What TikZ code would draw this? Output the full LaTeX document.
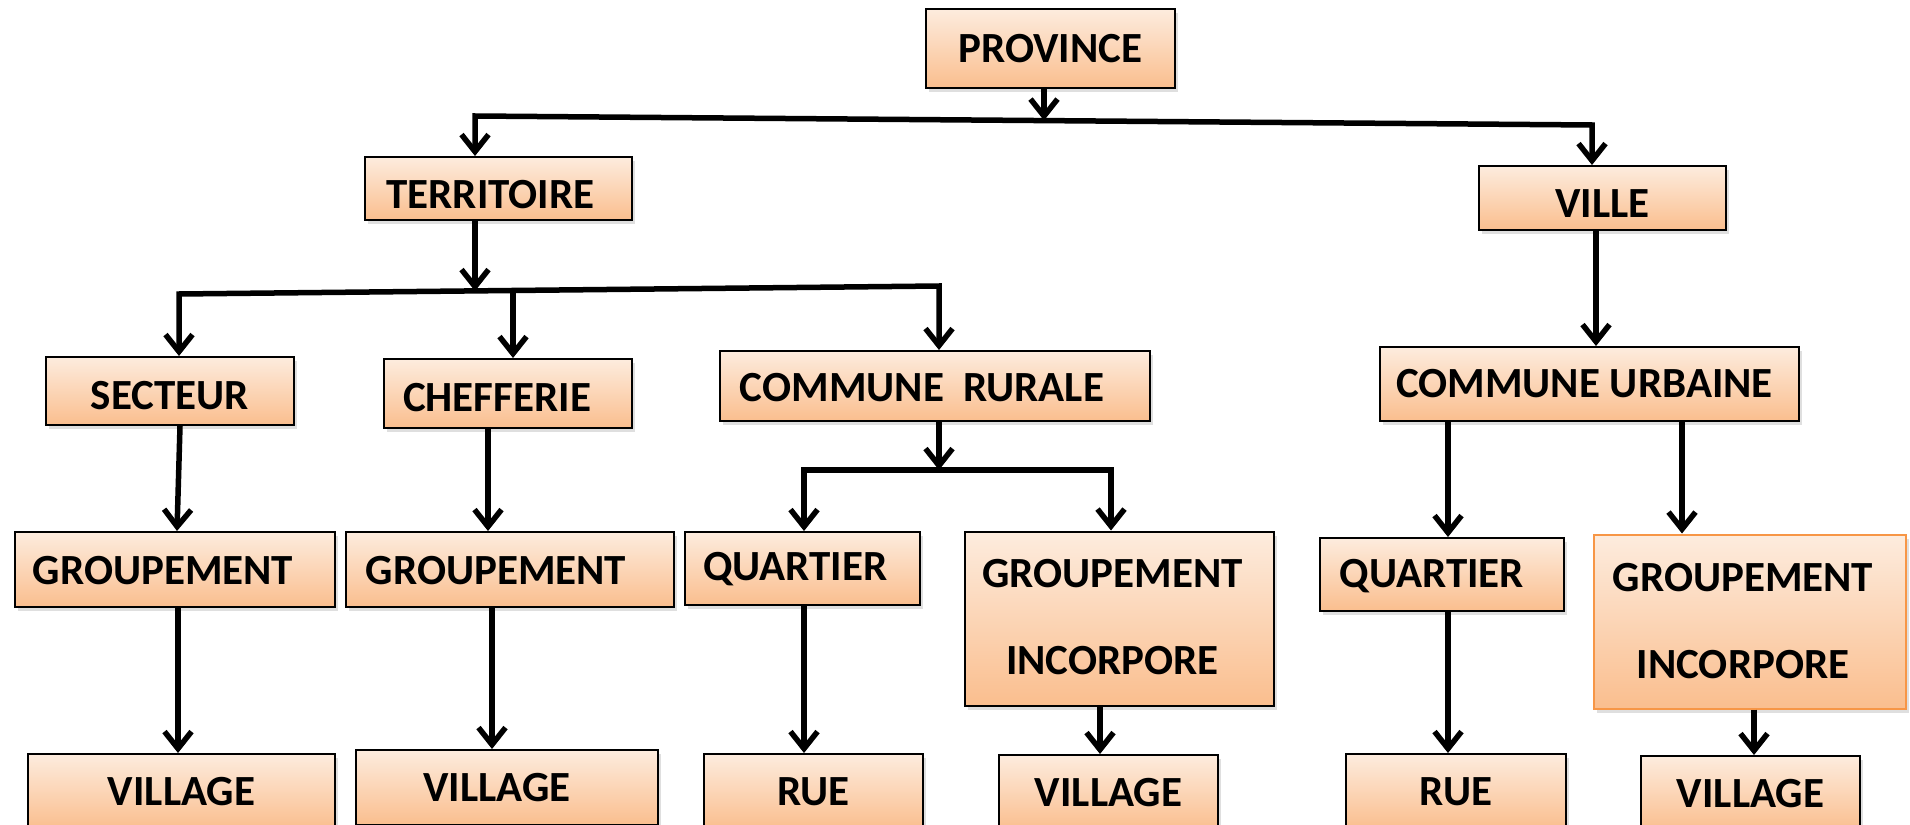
\documentclass[tikz,border=0pt]{standalone}
\usepackage{fontspec}
\setmainfont{Carlito}
\usetikzlibrary{arrows.meta,shadows,calc}
\definecolor{boxtop}{RGB}{253,236,222}
\definecolor{boxbot}{RGB}{250,190,142}
\definecolor{orangeline}{RGB}{247,150,70}
% #1 = shift to the left, #2 = shift downwards, #3 = text
\newcommand\tshift[3]{\raisebox{-#2}[\height][\depth]{#3}\kern#1\kern#1}
\begin{document}
\begin{tikzpicture}[x=1pt,y=-1pt,
  box/.style={draw=black,line width=2pt,top color=boxtop,bottom color=boxbot,
    font=\fontsize{43}{87}\selectfont\bfseries,inner sep=0pt,align=center,
    drop shadow={shadow xshift=3pt,shadow yshift=-4pt,opacity=0.25}},
  conn/.style={line width=5.5pt,line join=miter},
  arr/.style={conn,-{Straight Barb[length=17pt,width=27pt]}},
  arrb/.style={conn,{Straight Barb[length=17pt,width=27pt]}-{Straight Barb[length=17pt,width=27pt]}}]
\useasboundingbox (0,0) rectangle (1910,824);
% nodes
\node[box,minimum width=249pt,minimum height=79pt] (prov) at (1050.5,48.5) {PROVINCE};
\node[box,minimum width=267pt,minimum height=63pt] (terr) at (498.5,188.5) {\tshift{8pt}{6pt}{TERRITOIRE}};
\node[box,minimum width=247pt,minimum height=64pt] (ville) at (1602.5,198) {\tshift{0pt}{6pt}{VILLE}};
\node[box,minimum width=248pt,minimum height=68pt] (sect) at (170,391) {\tshift{0pt}{5pt}{SECTEUR}};
\node[box,minimum width=248pt,minimum height=69pt] (chef) at (508,393.5) {\tshift{11pt}{4pt}{CHEFFERIE}};
\node[box,minimum width=430pt,minimum height=70pt] (cr) at (935,386) {\tshift{13pt}{2pt}{COMMUNE\ \ RURALE}};
\node[box,minimum width=419pt,minimum height=74pt] (cu) at (1589.5,384) {\tshift{5pt}{0pt}{COMMUNE URBAINE}};
\node[box,minimum width=320pt,minimum height=75pt] (g1) at (175,569.5) {\tshift{12pt}{1pt}{GROUPEMENT}};
\node[box,minimum width=328pt,minimum height=75pt] (g2) at (510,569.5) {\tshift{14pt}{1pt}{GROUPEMENT}};
\node[box,minimum width=235pt,minimum height=73pt] (q1) at (802.5,568.5) {\tshift{7pt}{1pt}{QUARTIER}};
\node[box,minimum width=309pt,minimum height=169pt] (gi1) at (1119.5,618.5) {\tshift{7pt}{-5pt}{\begin{tabular}{@{}c@{}}GROUPEMENT\\INCORPORE\end{tabular}}};
\node[box,minimum width=244pt,minimum height=73pt] (q2) at (1442,574.5) {\tshift{10pt}{2pt}{QUARTIER}};
\node[box,draw=orangeline,minimum width=312pt,minimum height=169pt] (gi2) at (1750,621.5) {\tshift{7pt}{-3.5pt}{\begin{tabular}{@{}c@{}}GROUPEMENT\\INCORPORE\end{tabular}}};
\node[box,minimum width=307pt,minimum height=75pt] (v1) at (181.5,791.5) {VILLAGE};
\node[box,minimum width=302pt,minimum height=75pt] (v2) at (507,787.5) {\tshift{10pt}{0pt}{VILLAGE}};
\node[box,minimum width=219pt,minimum height=75pt] (r1) at (813.5,791.5) {RUE};
\node[box,minimum width=219pt,minimum height=75pt] (v3) at (1108.5,792.5) {VILLAGE};
\node[box,minimum width=220pt,minimum height=75pt] (r2) at (1456,791.5) {RUE};
\node[box,minimum width=219pt,minimum height=75pt] (v4) at (1750.5,793.5) {VILLAGE};
% junction coordinates
\coordinate (a1) at (475,116);
\coordinate (a2) at (1592,125);
\coordinate (ap) at (1044,120.5);
\coordinate (b1) at (179,294);
\coordinate (b2) at (939,286);
\coordinate (bt) at (475,291);
\coordinate (bc) at (513,290.5);
\coordinate (c1) at (804,470);
\coordinate (c2) at (1111,470);
\coordinate (cc) at (939,470);
% connectors
\draw[arrb] (terr.north -| a1) -- (a1) -- (a2) -- (ville.north -| a2);
\draw[arr] (prov.south -| ap) -- (ap);
\draw[arrb] (sect.north -| b1) -- (b1) -- (b2) -- (cr.north -| b2);
\draw[arr] (terr.south -| bt) -- (bt);
\draw[arr] (bc) -- (chef.north -| bc);
\draw[arrb] (q1.north -| c1) -- (c1) -- (c2) -- (gi1.north -| c2);
\draw[arr] (cr.south -| cc) -- (cc);
\draw[arr] ([xshift=10pt]sect.south) -- ([xshift=2pt]g1.north);
\draw[arr] ([xshift=3pt]g1.south) -- ([xshift=-3.5pt]v1.north);
\draw[arr] ([xshift=-20pt]chef.south) -- ([xshift=-22pt]g2.north);
\draw[arr] ([xshift=-18pt]g2.south) -- ([xshift=-15pt]v2.north);
\draw[arr] ([xshift=1.5pt]q1.south) -- ([xshift=-9.5pt]r1.north);
\draw[arr] ([xshift=-19.5pt]gi1.south) -- ([xshift=-8.5pt]v3.north);
\draw[arr] ([xshift=-6.5pt]ville.south) -- ([xshift=6.5pt]cu.north);
\draw[arr] ([xshift=-141.5pt]cu.south) -- ([xshift=6pt]q2.north);
\draw[arr] ([xshift=92.5pt]cu.south) -- ([xshift=-68pt]gi2.north);
\draw[arr] ([xshift=6pt]q2.south) -- ([xshift=-8pt]r2.north);
\draw[arr] ([xshift=4pt]gi2.south) -- ([xshift=3.5pt]v4.north);
\end{tikzpicture}
\end{document}
